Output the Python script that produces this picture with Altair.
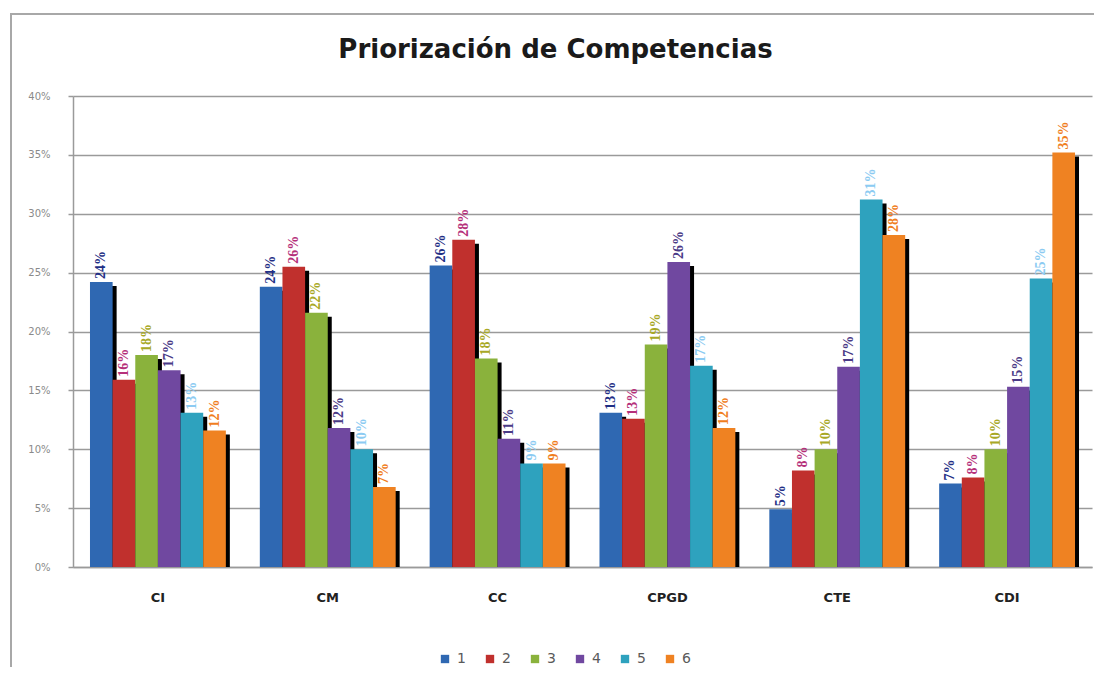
import altair as alt
import pandas as pd

categories = ["CI", "CM", "CC", "CPGD", "CTE", "CDI"]
series = ["1", "2", "3", "4", "5", "6"]

# percentages per series (one value per category)
s1 = [24.2, 23.8, 25.6, 13.1, 4.9, 7.1]
s2 = [15.9, 25.5, 27.8, 12.6, 8.2, 7.6]
s3 = [18.0, 21.6, 17.7, 18.9, 10.0, 10.0]
s4 = [16.7, 11.8, 10.9, 25.9, 17.0, 15.3]
s5 = [13.1, 10.0, 8.8, 17.1, 31.2, 24.5]
s6 = [11.6, 6.8, 8.8, 11.8, 28.2, 35.2]

y_ticks = [0, 0.05, 0.10, 0.15, 0.20, 0.25, 0.30, 0.35, 0.40]
title_text = "Priorización de Competencias"

bar_colors = ["#2F68B2", "#C0302D", "#8AB23C", "#7048A0", "#2EA2BE", "#EF8222"]
label_colors = ["#1F2F85", "#B5307A", "#A8A826", "#4A3A86", "#8CCBF2", "#F07E1E"]

rows = []
for s, vals in zip(series, [s1, s2, s3, s4, s5, s6]):
    for c, v in zip(categories, vals):
        rows.append({"cat": c, "serie": s, "value": v / 100})
df = pd.DataFrame(rows)

W, H = 1019, 471
Y_MAX = 0.4
P_IN, P_OUT = 0.2, 0.1
step = W / (len(categories) - P_IN + 2 * P_OUT)
bandwidth = step * (1 - P_IN)
SH = 4  # shadow shift in px
sh_data = SH / H * Y_MAX  # same shift expressed in data units

x = alt.X(
    "cat:N", sort=categories,
    scale=alt.Scale(paddingInner=P_IN, paddingOuter=P_OUT),
    axis=alt.Axis(title=None, labelAngle=0, ticks=False, grid=False,
                  labelFont="DejaVu Sans", labelFontWeight="bold",
                  labelFontSize=13, labelColor="#222222", labelPadding=24,
                  domainColor="#9a9a9a", domainWidth=1.5),
)
xo = alt.XOffset("serie:N", sort=series,
                 scale=alt.Scale(type="band", paddingInner=0, paddingOuter=0))
xo_shadow = alt.XOffset("serie:N", sort=series,
                        scale=alt.Scale(type="band", paddingInner=0, paddingOuter=0,
                                        range=[SH, bandwidth + SH]))
y_axis = alt.Axis(title=None, values=y_ticks, format=".0%",
                  labelFont="DejaVu Sans", labelFontSize=10,
                  labelColor="#8a8a8a", labelPadding=18,
                  tickColor="#9a9a9a", tickSize=5, tickWidth=1.5,
                  domainColor="#9a9a9a", domainWidth=1.5,
                  grid=True, gridColor="#9a9a9a", gridWidth=1.5)
y = alt.Y("value:Q", scale=alt.Scale(domain=[0, Y_MAX], nice=False), axis=y_axis)
y_shadow = alt.Y("sv:Q", scale=alt.Scale(domain=[0, Y_MAX], nice=False), axis=y_axis)

base = alt.Chart(df)

frame = alt.Chart(pd.DataFrame({"a": [0]})).mark_rect(
    filled=False, stroke="#a8a8a8", strokeWidth=2
).encode(
    x=alt.value(-62), x2=alt.value(W + 40),
    y=alt.value(-82), y2=alt.value(H + 200),
)

title = alt.Chart(pd.DataFrame({"t": [title_text]})).mark_text(
    font="DejaVu Sans", fontSize=26, fontWeight="bold", color="#1a1a1a",
    align="center", baseline="alphabetic",
).encode(
    text="t:N", x=alt.value(W / 2 - 27), y=alt.value(-38),
)

shadow = base.transform_calculate(
    sv=f"max(datum.value - {sh_data}, 0)"
).mark_bar(color="black").encode(
    x=x, xOffset=xo_shadow, y=y_shadow
)

bars = base.mark_bar().encode(
    x=x, xOffset=xo, y=y,
    color=alt.Color(
        "serie:N", sort=series,
        scale=alt.Scale(domain=series, range=bar_colors),
        legend=alt.Legend(
            title=None, orient="none", direction="horizontal", columns=6,
            legendX=365, legendY=556, symbolType="square", symbolSize=70,
            symbolStrokeWidth=0, labelFont="DejaVu Sans", labelFontSize=14,
            labelColor="#5a5a5a", labelOffset=5, columnPadding=17,
        ),
    ),
)

labels = base.mark_text(
    angle=270, align="left", baseline="middle", dx=3,
    font="Liberation Serif", fontWeight="bold", fontSize=14,
).encode(
    x=x, xOffset=xo, y=y,
    text=alt.Text("value:Q", format=".0%"),
    color=alt.Color("serie:N", sort=series,
                    scale=alt.Scale(domain=series, range=label_colors),
                    legend=None),
)

chart = alt.layer(frame, title, shadow, bars, labels).resolve_scale(
    color="independent", xOffset="independent"
).properties(
    width=W, height=H,
    autosize=alt.AutoSizeParams(type="none"),
    padding={"left": 65, "top": 88, "right": 2, "bottom": 100},
    background="white",
).configure_view(stroke=None)

chart.save("out.html", embed_options={"renderer": "svg", "actions": False})
